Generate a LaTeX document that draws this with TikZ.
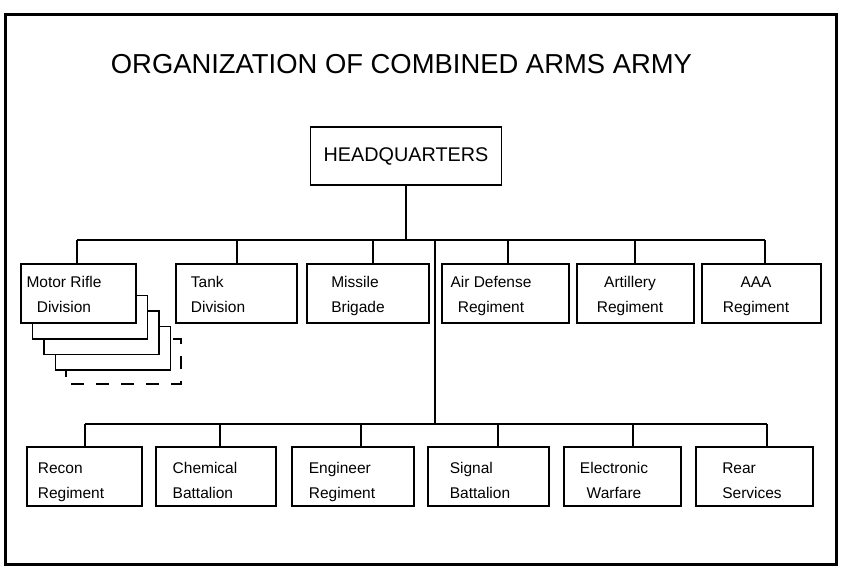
\documentclass[tikz,border=0pt]{standalone}
\usepackage{fontspec}
\setmainfont{Liberation Sans}

\begin{document}
\begin{tikzpicture}[x=1pt, y=-1pt, line width=1.8pt,
    unit/.style={draw, fill=white, rectangle, inner sep=0pt, minimum height=59},
    txt/.style={inner sep=0pt, font=\fontsize{15.5}{25}\selectfont}]
    \useasboundingbox (0,0) rectangle (864,578);

    % Outer frame
    \draw[line width=3pt] (5,15) rectangle (836,564);

    % Title
    \node[inner sep=0pt, anchor=west, font=\fontsize{27.4}{32}\selectfont] (title) at (110,64.5) {ORGANIZATION OF COMBINED ARMS ARMY};

    % Headquarters
    \node[unit, minimum width=191, minimum height=58, font=\fontsize{19.8}{22}\selectfont] (hq) at (406,156) {HEADQUARTERS};
    \coordinate (tb) at (406,240);
    \draw (hq) -- (tb);

    % Copies stacked behind the first division
    \draw[dash pattern=on 13pt off 12pt] (66,339) rectangle (181,384);
    \foreach \k in {3,2,1}
        \draw[fill=white] (21+11.5*\k, 280+15.5*\k) rectangle (136+11.5*\k, 323.5+15.5*\k);

    % Top row
    \foreach \l/\r/\t/\d/\a/\n/\s in {
        21/136/64/77/c/mrd/{Motor Rifle\\Division},
        176/297/218/237/l/tank/{Tank\\Division},
        307/429/358/373/l/msl/{Missile\\Brigade},
        442/569/491/508/c/ad/{Air Defense\\Regiment},
        577/694/630/635/c/art/{Artillery\\Regiment},
        702/821/756/765/c/aaa/{AAA\\Regiment}} {
        \node[unit, minimum width=\r-\l] (\n) at ({(\l+\r)/2},293.5) {};
        \if\a l
            \node[txt, align=left] at (\t,296) {\vphantom{l}\s\vphantom{g}};
        \else
            \node[txt, align=center] at (\t,296) {\vphantom{l}\s\vphantom{g}};
        \fi
        \coordinate (\n-bus) at (\d,240);
        \draw (\n-bus) -- (\n-bus |- \n.north);
    }
    \draw (mrd-bus) -- (aaa-bus);

    % Trunk down to the support units
    \coordinate (trunk) at (435,240);
    \coordinate (bb) at (435,424);
    \draw (trunk) -- (bb);

    % Bottom row
    \foreach \l/\r/\t/\d/\a/\n/\s in {
        27/142/71/85/l/recon/{Recon\\Regiment},
        156/276/205/220/l/chem/{Chemical\\Battalion},
        292/414/342/361/l/eng/{Engineer\\Regiment},
        428/549/480/498/l/sig/{Signal\\Battalion},
        564/681/614/633/c/ew/{Electronic\\Warfare},
        696/813/752/767/l/rear/{Rear\\Services}} {
        \node[unit, minimum width=\r-\l] (\n) at ({(\l+\r)/2},476.5) {};
        \if\a l
            \node[txt, align=left] at (\t,482) {\vphantom{l}\s\vphantom{g}};
        \else
            \node[txt, align=center] at (\t,482) {\vphantom{l}\s\vphantom{g}};
        \fi
        \coordinate (\n-bus) at (\d,424);
        \draw (\n-bus) -- (\n-bus |- \n.north);
    }
    \draw (recon-bus) -- (rear-bus);
\end{tikzpicture}
\end{document}
